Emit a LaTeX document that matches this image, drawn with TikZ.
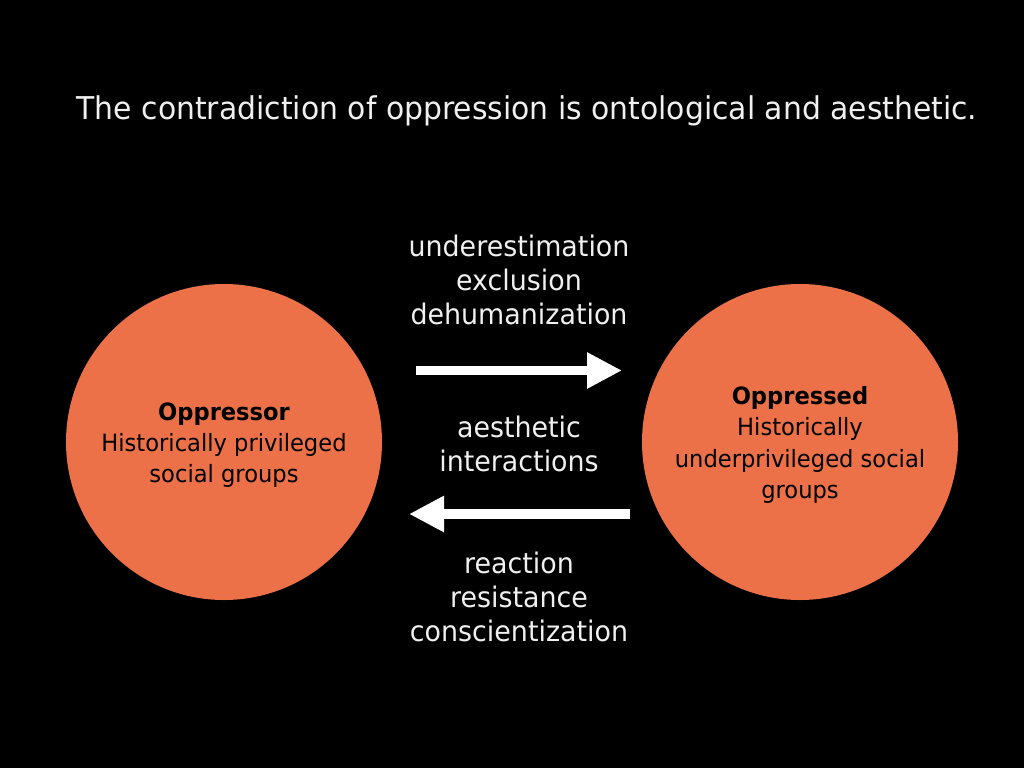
\documentclass[tikz,border=0pt]{standalone}
\usepackage{fontspec}
\setmainfont{DejaVu Sans}[FakeStretch=0.95]
\usetikzlibrary{arrows.meta}
\definecolor{circ}{RGB}{236,113,72}
\definecolor{txt}{RGB}{240,240,240}
\tikzset{
  party/.style={circle, fill=circ, minimum size=316pt, inner sep=0pt},
  partytext/.style={text=black, align=center, font=\fontsize{23.8}{31.3}\selectfont},
  lbl/.style={text=txt, align=center, font=\fontsize{28.3}{34}\selectfont},
  bigarrow/.style={line width=9.5pt, white, -{Triangle[length=35pt,width=34pt]}}
}
\begin{document}
\begin{tikzpicture}[x=1pt,y=-1pt]
\fill[black] (0,0) rectangle (1024,768);
\useasboundingbox (0,0) rectangle (1024,768);
\node[text=txt, font=\fontsize{31.4}{36}\selectfont] (title) at (527,111) {The contradiction of oppression is ontological and aesthetic.};
\node[party] (opp) at (224,442) {};
\node[partytext] (opptext) at (224,445) {\textbf{Oppressor}\\Historically privileged\\social groups};
\node[party] (opd) at (800,442) {};
\node[partytext] (opdtext) at (800,445) {\textbf{Oppressed}\\Historically\\underprivileged social\\groups};
\node[lbl] (top) at (519,280) {underestimation\\exclusion\\dehumanization};
\node[lbl] (mid) at (519,444) {aesthetic\\interactions};
\node[lbl] (bot) at (519,597) {reaction\\resistance\\conscientization};
\coordinate (a1s) at (416,370.5);
\coordinate (a1e) at (622,370.5);
\coordinate (a2s) at (630,514);
\coordinate (a2e) at (409,514);
\draw[bigarrow] (a1s) -- (a1e);
\draw[bigarrow] (a2s) -- (a2e);
\end{tikzpicture}
\end{document}
